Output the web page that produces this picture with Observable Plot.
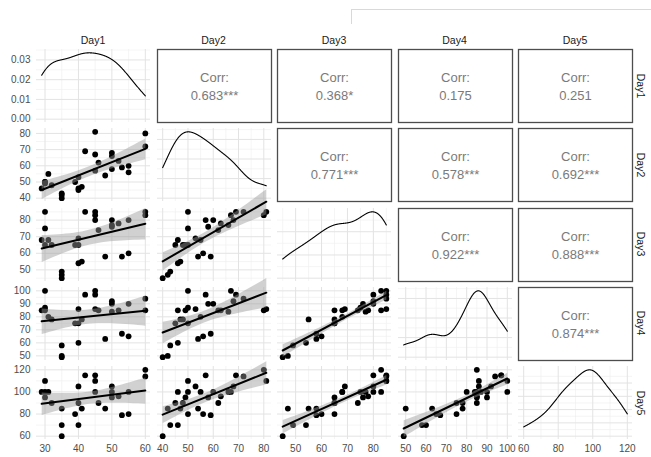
<!DOCTYPE html>
<html><head><meta charset="utf-8">
<script src="https://cdn.jsdelivr.net/npm/d3@7"></script>
<script src="https://cdn.jsdelivr.net/npm/@observablehq/plot@0.6"></script>
<style>
body{margin:0;background:#fff;font-family:"Liberation Sans",Arial,sans-serif;}
#chart{position:relative;width:651px;height:457px;overflow:hidden;background:#fff;}
.strip{position:absolute;font-size:10.5px;color:#1a1a1a;white-space:nowrap;}
.topline{position:absolute;left:351px;top:9px;width:310px;height:14px;border-top:1.5px solid #d9d9d9;border-left:1.5px solid #d9d9d9;}
</style></head><body><div id="chart"><div class="topline"></div></div>
<script>
// ---- data ----
const variables = ["Day1", "Day2", "Day3", "Day4", "Day5"];
const day1 = [29,30,30,30,31,32,35,35,35,39,40,40,40,41,42,45,45,45,46,48,50,50,50,52,53,55,55,60,60];
const day2 = [46,50,50,49,55,48,43,42,40,50,53,45,46,47,69,81,67,57,62,54,68,66,58,63,59,60,56,80,72];
const day3 = [68,85,75,65,68,65,49,47,45,65,69,65,54,55,85,85,83,80,74,58,80,77,76,78,58,80,60,83,85];
const day4 = [85,100,87,85,80,78,58,50,49,75,86,75,60,78,97,86,100,97,85,63,92,84,90,85,67,90,65,85,94];
const day5 = [100,110,100,95,100,90,70,85,60,80,105,90,70,85,115,110,100,115,90,85,105,100,95,96,79,100,80,120,114];
// correlation labels, upper triangle, row by row
const corrLabel = "Corr:";
const corrValues = ["0.683***","0.368*","0.175","0.251","0.771***","0.578***","0.692***","0.922***","0.888***","0.874***"];
// tick labels
const ticksDay1 = [30,40,50,60];
const ticksDay2 = [40,50,60,70,80];
const ticksDay3 = [50,60,70,80];
const ticksDay4 = [50,60,70,80,90,100];
const ticksDay5 = [60,80,100,120];
const ticksDensity = [0,0.01,0.02,0.03];

// ---- layout ----
const days = [day1, day2, day3, day4, day5];
const ticks = [ticksDay1, ticksDay2, ticksDay3, ticksDay4, ticksDay5];
const X0 = [36, 156.5, 277, 397.5, 518];
const Y0 = [49, 128.25, 207.5, 286.75, 366];
const W = 114, H = 73;
const chart = document.getElementById("chart");
const FONT = '"Liberation Sans", Arial, sans-serif';
const GRID = "#e3e3e3", GRIDMINOR = "#efefef";

function expand(ext) { const r = ext[1]-ext[0]; return [ext[0]-0.05*r, ext[1]+0.05*r]; }
const domains = days.map(v => expand(d3.extent(v)));

function minorOf(t, dom) {
  const step = t[1]-t[0]; const out = [];
  for (let v = t[0]-step/2; v <= t[t.length-1]+step/2 + 1e-9; v += step) if (v >= dom[0] && v <= dom[1]) out.push(v);
  return out;
}
function inDom(t, dom) { return t.filter(v => v >= dom[0] && v <= dom[1]); }
function grid(xt, yt, xd, yd) {
  return [
    Plot.ruleX(minorOf(xt, xd), {stroke: GRIDMINOR, strokeWidth: 0.6}),
    Plot.ruleY(minorOf(yt, yd), {stroke: GRIDMINOR, strokeWidth: 0.6}),
    Plot.ruleX(inDom(xt, xd), {stroke: GRID, strokeWidth: 1}),
    Plot.ruleY(inDom(yt, yd), {stroke: GRID, strokeWidth: 1})
  ];
}
function kde(values) {
  const n = values.length;
  const s = values.slice().sort(d3.ascending);
  const iqr = d3.quantileSorted(s, 0.75) - d3.quantileSorted(s, 0.25);
  const bw = 0.9 * Math.min(d3.deviation(values), iqr/1.34) * Math.pow(n, -0.2);
  const [lo, hi] = d3.extent(values);
  return d3.range(512).map(k => {
    const x = lo + (hi-lo)*k/511;
    const y = d3.mean(values, v => Math.exp(-0.5*((x-v)/bw)**2)/Math.sqrt(2*Math.PI))/bw;
    return {x, y};
  });
}

let ci = 0;
for (let i = 0; i < 5; i++) {
  for (let j = 0; j < 5; j++) {
    const ml = j === 0 ? 36 : 0, mb = i === 4 ? 20 : 0;
    let marks = [], xd = domains[j], yd = domains[i];
    if (i < j) {
      const val = corrValues[ci++];
      xd = [0,1]; yd = [0,1];
      marks = [
        Plot.frame({stroke: "#4d4d4d", strokeWidth: 1.3}),
        Plot.text([corrLabel], {text: d => d, frameAnchor: "middle", dy: -8, fill: "#7a7a7a", fontSize: 13}),
        Plot.text([val], {text: d => d, frameAnchor: "middle", dy: 10, fill: "#7a7a7a", fontSize: 13})
      ];
    } else if (i === j) {
      const dens = kde(days[i]);
      const mx = d3.max(dens, d => d.y);
      yd = [-0.05*mx, 1.05*mx];
      const yt = i === 0 ? ticksDensity : d3.ticks(0, mx, 4);
      marks = [...grid(ticks[j], yt, xd, yd), Plot.line(dens, {x: "x", y: "y", stroke: "black", strokeWidth: 1.1})];
      if (j === 0) marks.push(Plot.axisY(ticksDensity, {tickSize: 0, tickPadding: 6, label: null, tickFormat: d3.format(".2f")}));
    } else {
      const data = days[j].map((a, k) => ({a, b: days[i][k]}));
      marks = [
        ...grid(ticks[j], ticks[i], xd, yd),
        Plot.dot(data, {x: "a", y: "b", r: 2.9, fill: "black", stroke: "none"}),
        Plot.linearRegressionY(data, {x: "a", y: "b", stroke: "black", strokeWidth: 2, fill: "#999999", fillOpacity: 0.45})
      ];
      if (j === 0) marks.push(Plot.axisY(ticks[i], {tickSize: 0, tickPadding: 6, label: null}));
    }
    if (i === 4) marks.push(Plot.axisX(ticks[j], {tickSize: 0, tickPadding: 5, label: null}));
    const el = Plot.plot({
      width: W + ml, height: H + mb,
      marginLeft: ml, marginRight: 0, marginTop: 0, marginBottom: mb,
      x: {domain: xd, axis: null}, y: {domain: yd, axis: null},
      style: {background: "transparent", fontSize: "10px", fontFamily: FONT, color: "#4d4d4d", overflow: "visible"},
      marks
    });
    el.style.position = "absolute";
    el.style.left = (X0[j] - ml) + "px";
    el.style.top = Y0[i] + "px";
    el.style.maxWidth = "none";
    chart.appendChild(el);
  }
}
// strips
variables.forEach((v, j) => {
  const d = document.createElement("div");
  d.className = "strip"; d.textContent = v;
  d.style.left = (X0[j] + W/2) + "px"; d.style.top = "40px";
  d.style.transform = "translate(-50%,-50%)";
  chart.appendChild(d);
});
variables.forEach((v, i) => {
  const d = document.createElement("div");
  d.className = "strip"; d.textContent = v;
  d.style.left = "641px"; d.style.top = (Y0[i] + H/2) + "px";
  d.style.transform = "translate(-50%,-50%) rotate(90deg)";
  chart.appendChild(d);
});
</script></body></html>
